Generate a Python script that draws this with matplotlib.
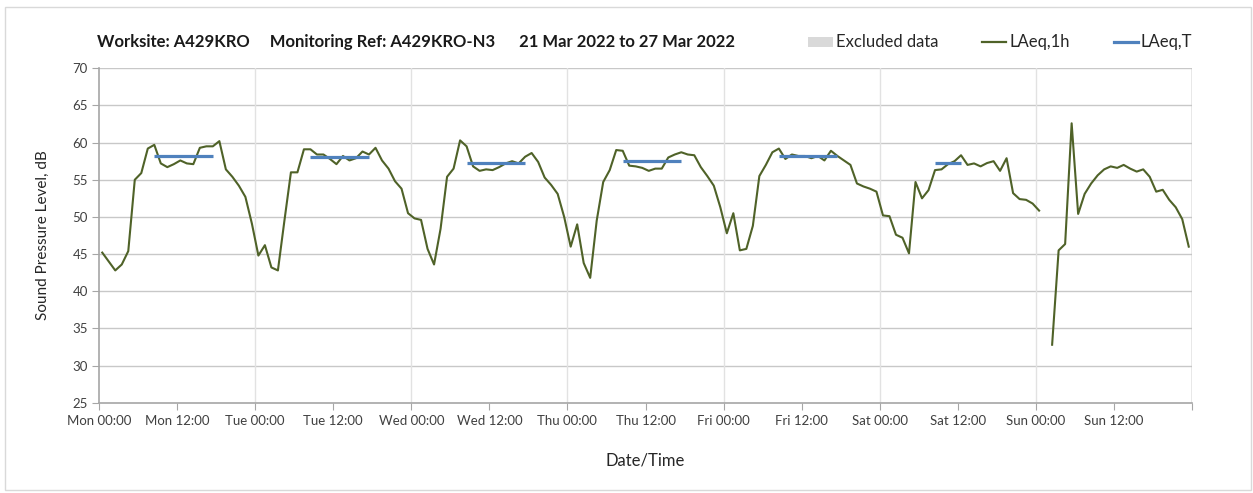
import numpy as np
import matplotlib
matplotlib.use("Agg")
import matplotlib.pyplot as plt
from matplotlib.lines import Line2D
from matplotlib.patches import Rectangle

plt.rcParams['font.family'] = ['Lato', 'DejaVu Sans']

# Hourly LAeq,1h levels (dB), Mon 00:00 .. Sun 23:00; NaN = excluded / missing
mon = [45.2, 44.0, 42.8, 43.6, 45.4, 55.0, 55.9, 59.2, 59.7, 57.2, 56.7, 57.1,
       57.6, 57.2, 57.1, 59.3, 59.5, 59.5, 60.2, 56.4, 55.4, 54.2, 52.7, 49.1]
tue = [44.8, 46.2, 43.2, 42.8, 49.5, 56.0, 56.0, 59.1, 59.1, 58.4, 58.4, 57.8,
       57.1, 58.2, 57.6, 57.9, 58.8, 58.4, 59.3, 57.6, 56.5, 54.8, 53.8, 50.5]
wed = [49.8, 49.6, 45.7, 43.6, 48.4, 55.4, 56.5, 60.3, 59.5, 56.8, 56.2, 56.4,
       56.3, 56.7, 57.2, 57.5, 57.2, 58.1, 58.6, 57.4, 55.3, 54.3, 53.1, 50.0]
thu = [46.0, 49.0, 43.8, 41.8, 49.5, 54.7, 56.3, 59.0, 58.9, 56.9, 56.8, 56.6,
       56.2, 56.5, 56.5, 58.0, 58.4, 58.7, 58.4, 58.3, 56.7, 55.5, 54.2, 51.3]
fri = [47.8, 50.5, 45.5, 45.7, 48.8, 55.5, 57.0, 58.7, 59.2, 57.8, 58.4, 58.2,
       58.2, 57.9, 58.2, 57.6, 58.9, 58.2, 57.6, 57.0, 54.5, 54.1, 53.8, 53.4]
sat = [50.2, 50.1, 47.6, 47.2, 45.1, 54.7, 52.5, 53.6, 56.3, 56.4, 57.1, 57.5,
       58.3, 57.0, 57.2, 56.8, 57.25, 57.5, 56.2, 57.9, 53.2, 52.4, 52.3, 51.8]
sun = [50.85, np.nan, 32.8, 45.5, 46.35, 62.6, 50.4, 53.1, 54.5, 55.6, 56.4, 56.8,
       56.6, 57.0, 56.5, 56.1, 56.4, 55.4, 53.4, 53.65, 52.3, 51.3, 49.7, 46.0]
laeq_1h = np.array(mon + tue + wed + thu + fri + sat + sun, dtype=float)

# Hour-centred timestamps (hours since Mon 00:00)
hours = np.arange(len(laeq_1h)) + 0.5

# Working-period LAeq,T: (day index, start hour, end hour, level dB)
period_day = [0, 1, 2, 3, 4, 5]
period_start = [8, 8, 8, 8, 8, 8]
period_end = [18, 18, 18, 18, 18, 13]
period_level = [58.2, 58.1, 57.3, 57.5, 58.2, 57.2]

day_names = ['Mon', 'Tue', 'Wed', 'Thu', 'Fri', 'Sat', 'Sun']
tick_labels = [f'{d} {t}' for d in day_names for t in ('00:00', '12:00')]

W, H = 1253, 493
fig = plt.figure(figsize=(W / 100, H / 100), dpi=100)
fig.patch.set_facecolor('white')
fig.add_artist(Rectangle((5 / W, 3 / H), (W - 7) / W, (H - 10) / H,
                         transform=fig.transFigure, fill=False,
                         edgecolor='#D9D9D9', linewidth=1.0))

ax = fig.add_axes([99 / W, 1 - 402.7 / H, (1192 - 99) / W, (402.7 - 68.3) / H])

green = '#4F6228'
blue = '#4F81BD'
ax.plot(hours, laeq_1h, color=green, linewidth=1.5, zorder=3)
for d, s, e, v in zip(period_day, period_start, period_end, period_level):
    ax.plot([d * 24 + s + 0.5, d * 24 + e - 0.5], [v, v], color=blue,
            linewidth=2.3, solid_capstyle='butt', zorder=4)

ax.set_xlim(0, 168)
ax.set_ylim(25, 70)
ax.set_yticks(np.arange(25, 71, 5))
ax.set_xticks(np.arange(0, 169, 12))
ax.set_xticklabels(tick_labels + [''])

for y in np.arange(30, 71, 5):
    ax.axhline(y, color='#C8C8C8', linewidth=1.0, zorder=1)
for x in np.arange(24, 169, 24):
    ax.axvline(x, color='#E2E2E2', linewidth=1.0, zorder=1)
ax.axvline(168, color='#A6A6A6', linewidth=1.0, zorder=1)

for side in ('top', 'right'):
    ax.spines[side].set_visible(False)
for side in ('left', 'bottom'):
    ax.spines[side].set_color('#A6A6A6')
    ax.spines[side].set_linewidth(1.2)

ax.tick_params(axis='both', direction='out', length=5, color='#A6A6A6',
               labelsize=9.5, labelcolor='#404040')
ax.tick_params(axis='x', pad=4)
ax.tick_params(axis='y', pad=3)

ax.set_ylabel('Sound Pressure Level, dB', fontsize=11, color='#262626', labelpad=16)
ax.set_xlabel('Date/Time', fontsize=12, color='#262626', labelpad=18)

fig.text(97 / W, 1 - 42 / H,
         'Worksite: A429KRO     Monitoring Ref: A429KRO-N3      21 Mar 2022 to 27 Mar 2022',
         fontsize=12, fontweight='bold', color='#1a1a1a', va='center', ha='left')

# Legend
ly = 1 - 42 / H
fig.add_artist(Rectangle((808 / W, 1 - 47 / H), 25 / W, 10 / H,
                         transform=fig.transFigure, facecolor='#D9D9D9',
                         edgecolor='none'))
fig.text(836 / W, ly, 'Excluded data', fontsize=12, color='#262626', va='center')
fig.add_artist(Line2D([982 / W, 1006 / W], [ly, ly], transform=fig.transFigure,
                      color=green, linewidth=1.6))
fig.text(1009 / W, ly, 'LAeq,1h', fontsize=12, color='#262626', va='center')
fig.add_artist(Line2D([1114 / W, 1138 / W], [ly, ly], transform=fig.transFigure,
                      color=blue, linewidth=2.3))
fig.text(1140 / W, ly, 'LAeq,T', fontsize=12, color='#262626', va='center')

fig.savefig('out.png', dpi=100)
